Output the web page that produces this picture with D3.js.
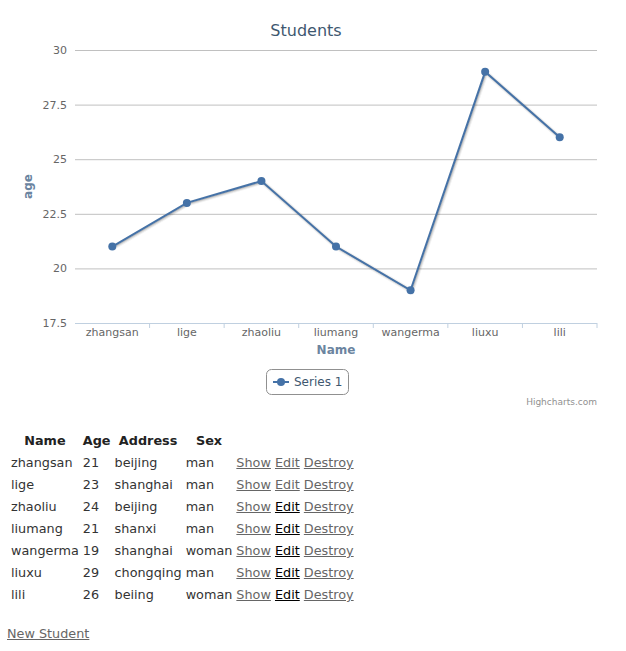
<!DOCTYPE html>
<html>
<head>
<meta charset="utf-8">
<script src="https://cdn.jsdelivr.net/npm/d3@7"></script>
<style>
  body { margin: 0; background: #fff; font-family: "DejaVu Sans", Verdana, sans-serif; font-size: 12.8px; line-height: 18px; color: #333; }
  #chart { display: block; }
  table { border-spacing: 2px; margin-left: 8px; margin-top: 14px; }
  td, th { padding: 1px; font-size: 12.8px; line-height: 18px; text-align: left; white-space: nowrap; }
  th { text-align: center; color: #222; }
  a { color: #000; }
  a.visited { color: #666; }
  p.new { margin: 18px 0 0 7px; }
</style>
</head>
<body>
<div id="chart"></div>
<table id="students"></table>
<p class="new"><a class="visited" href="#">New Student</a></p>
<script>
var names = ['zhangsan', 'lige', 'zhaoliu', 'liumang', 'wangerma', 'liuxu', 'lili'];
var ages = [21, 23, 24, 21, 19, 29, 26];
var addresses = ['beijing', 'shanghai', 'beijing', 'shanxi', 'shanghai', 'chongqing', 'beiing'];
var sexes = ['man', 'man', 'man', 'man', 'woman', 'man', 'woman'];
var editVisited = [true, true, false, false, false, false, false];
var yTicks = [17.5, 20, 22.5, 25, 27.5, 30];
var yTickLabels = ['17.5', '20', '22.5', '25', '27.5', '30'];

var width = 626, height = 410;
var margin = {top: 50, right: 29, bottom: 87, left: 75};
var plotW = width - margin.left - margin.right;
var plotH = height - margin.top - margin.bottom;
var font = '"DejaVu Sans", Verdana, sans-serif';
var lineColor = '#4572A7';

var svg = d3.select('#chart').append('svg')
    .attr('width', width)
    .attr('height', height)
    .style('font-family', font);

var x = d3.scaleBand().domain(names).range([0, plotW]);
var y = d3.scaleLinear().domain([17.5, 30]).range([plotH, 0]);

var g = svg.append('g').attr('transform', `translate(${margin.left},${margin.top})`);

// title
svg.append('text')
    .attr('x', 306).attr('y', 36)
    .attr('text-anchor', 'middle')
    .style('font-size', '16px')
    .style('fill', '#3E576F')
    .text('Students');

// grid + y labels
var yAxis = d3.axisLeft(y).tickValues(yTicks)
    .tickFormat((d, i) => yTickLabels[i])
    .tickSize(-plotW).tickPadding(8);
g.append('g').call(yAxis)
  .call(a => a.select('.domain').remove())
  .call(a => a.selectAll('line').attr('stroke', '#C0C0C0'))
  .call(a => a.selectAll('text').style('font-size', '11px').style('fill', '#666').attr('font-family', font));

// x axis
g.append('line')
    .attr('x1', 0).attr('x2', plotW)
    .attr('y1', plotH + 0.5).attr('y2', plotH + 0.5)
    .attr('stroke', '#C0D0E0');
g.selectAll('.xtick')
  .data(names)
  .join('line')
    .attr('class', 'xtick')
    .attr('x1', d => x(d) + x.bandwidth())
    .attr('x2', d => x(d) + x.bandwidth())
    .attr('y1', plotH).attr('y2', plotH + 5)
    .attr('stroke', '#C0D0E0');
g.selectAll('.xlab')
  .data(names)
  .join('text')
    .attr('class', 'xlab')
    .attr('x', d => x(d) + x.bandwidth() / 2)
    .attr('y', plotH + 13)
    .attr('text-anchor', 'middle')
    .style('font-size', '11px')
    .style('fill', '#666')
    .text(d => d);

// axis titles
g.append('text')
    .attr('x', plotW / 2).attr('y', plotH + 31)
    .attr('text-anchor', 'middle')
    .style('font-size', '12px').style('font-weight', 'bold')
    .style('fill', '#6b84a0')
    .text('Name');
svg.append('text')
    .attr('transform', `translate(32,${margin.top + plotH / 2}) rotate(-90)`)
    .attr('text-anchor', 'middle')
    .style('font-size', '12px').style('font-weight', 'bold')
    .style('fill', '#6b84a0')
    .text('age');

// series
var pts = names.map((n, i) => [x(n) + x.bandwidth() / 2, y(ages[i])]);
var line = d3.line();
[5, 3, 1].forEach((w, i) => {
  g.append('path')
    .attr('d', line(pts))
    .attr('transform', 'translate(1,1)')
    .attr('fill', 'none')
    .attr('stroke', '#000')
    .attr('stroke-opacity', 0.05 * (i + 1))
    .attr('stroke-width', w);
});
g.append('path')
    .attr('d', line(pts))
    .attr('fill', 'none')
    .attr('stroke', lineColor)
    .attr('stroke-width', 2);
g.selectAll('.dot')
  .data(pts)
  .join('circle')
    .attr('class', 'dot')
    .attr('cx', d => d[0]).attr('cy', d => d[1])
    .attr('r', 4)
    .attr('fill', lineColor);

// legend
var lg = svg.append('g').attr('transform', 'translate(266,369)');
lg.append('rect')
    .attr('x', 0.5).attr('y', 0.5)
    .attr('width', 82).attr('height', 25)
    .attr('rx', 5)
    .attr('fill', '#fff')
    .attr('stroke', '#909090');
lg.append('line')
    .attr('x1', 7).attr('x2', 23).attr('y1', 13).attr('y2', 13)
    .attr('stroke', lineColor).attr('stroke-width', 2);
lg.append('circle').attr('cx', 15).attr('cy', 13).attr('r', 4).attr('fill', lineColor);
lg.append('text')
    .attr('x', 28).attr('y', 17)
    .style('font-size', '12px')
    .style('fill', '#3E576F')
    .text('Series 1');

// credits
svg.append('text')
    .attr('x', 597).attr('y', 405)
    .attr('text-anchor', 'end')
    .style('font-size', '9px')
    .style('fill', '#909090')
    .text('Highcharts.com');

// table
var table = d3.select('#students');
table.append('tr').selectAll('th')
  .data(['Name', 'Age', 'Address', 'Sex'])
  .join('th').text(d => d);
var rows = table.selectAll('tr.row')
  .data(names.map((n, i) => i))
  .join('tr').attr('class', 'row');
rows.append('td').text(i => names[i]);
rows.append('td').text(i => ages[i]);
rows.append('td').text(i => addresses[i]);
rows.append('td').text(i => sexes[i]);
var acts = rows.append('td');
acts.append('a').attr('href', '#').attr('class', 'visited').text('Show');
acts.append('span').text(' ');
acts.append('a').attr('href', '#').attr('class', i => editVisited[i] ? 'visited' : null).text('Edit');
acts.append('span').text(' ');
acts.append('a').attr('href', '#').attr('class', 'visited').text('Destroy');
</script>
</body>
</html>
